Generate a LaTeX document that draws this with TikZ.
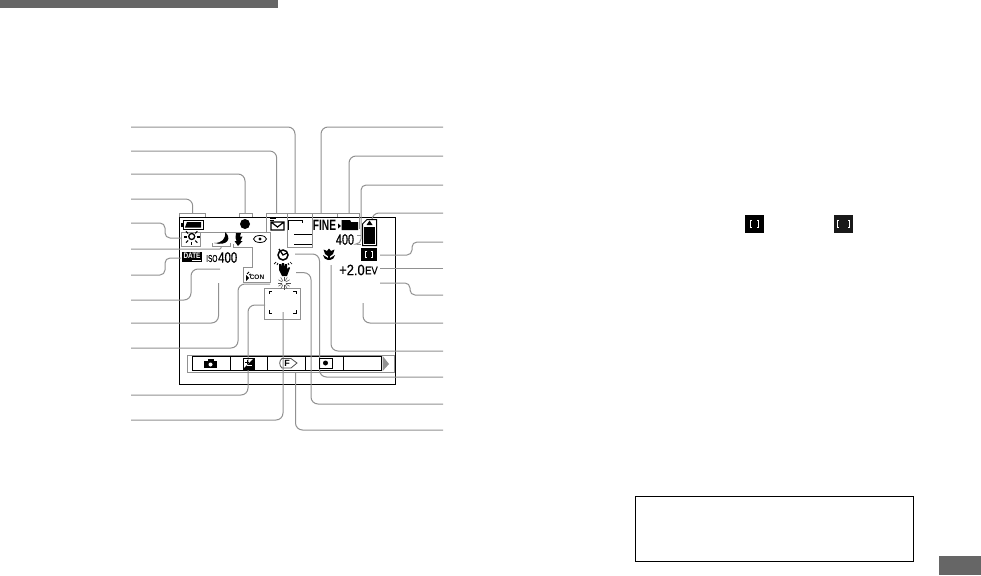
\documentclass[tikz,border=0pt]{standalone}
\usepackage{fontspec}
\setmainfont{Liberation Sans}
\newfontfamily\heavyfont[FakeBold=0.5]{Liberation Sans}
\usetikzlibrary{positioning,calc,shapes.geometric}
\definecolor{leadgray}{RGB}{145,145,145}
\definecolor{tabgray}{RGB}{102,102,102}
\newcommand{\narrow}[2]{\scalebox{#1}[1]{#2}}

\begin{document}
\begin{tikzpicture}[x=1pt,y=-1pt,
  leader/.style={draw=leadgray,line width=1pt,rounded corners=7pt},
  frame/.style={draw=black,line width=1pt},
  readout/.style={inner sep=0pt,text=black,font=\fontsize{15}{15}\heavyfont},
  smalltext/.style={inner sep=0pt,text=black,font=\fontsize{9}{9}\heavyfont},
  whitemark/.style={draw=white,line width=1pt},
  graymark/.style={draw=leadgray,line width=1pt}
]
\useasboundingbox (0,0) rectangle (981,575);
% page furniture
\node[fill=tabgray,inner sep=0pt,minimum width=278pt,minimum height=8pt] (headbar) at (139,4) {};
\node[fill=tabgray,inner sep=0pt,minimum width=42pt,minimum height=19pt] (pagetab) at (960,565.5) {};
\node[draw=black,line width=1pt,inner sep=0pt,minimum width=278pt,minimum height=65pt] (notebox) at (774,529) {};
\node[fill=black,inner sep=0pt,minimum width=19pt,minimum height=17.5pt] (spotnarrow) at (754.5,224) {};
\node[fill=black!90,inner sep=0pt,minimum width=19pt,minimum height=17.5pt] (spotwide) at (843.5,224) {};
\draw[whitemark] (752,220.5) -- (750.5,220.5) -- (750.5,227.5) -- (752,227.5) (757,220.5) -- (758.5,220.5) -- (758.5,227.5) -- (757,227.5);
\draw[whitemark] (839,220.5) -- (837.5,220.5) -- (837.5,227.5) -- (839,227.5) (848,220.5) -- (849.5,220.5) -- (849.5,227.5) -- (848,227.5);

% screen and menu
\node[frame,inner sep=0pt,minimum width=215.5pt,minimum height=166.5pt] (screen) at (287.25,300.75) {};
\draw[graymark] (187.7,355) rectangle (394,372);
\node[frame,inner sep=0pt,minimum width=189pt,minimum height=14pt] (menubar) at (287.2,363.7) {};
\foreach \x in {230.3,267,305.7,343} \draw[frame] (\x,356.7) -- (\x,370.7);
\fill[leadgray] (382.7,356) -- (389,364) -- (382.7,371) -- cycle;

% gray marks round the icons
\draw[graymark] (179.5,217) |- (205,213.5) -- (205,217);
\draw[graymark] (239,217) |- (252,213.5) -- (252,217);
\draw[graymark] (266,231.7) |- (359.3,213.3) -- (359.3,229);
\draw[graymark] (287,213.3) -- (287,247) -- (312,247) -- (312,213.3);
\draw[graymark] (337,213.3) -- (337,217);
\draw[graymark] (181,232) -- (181,246) -- (200,246) -- (200,232) (181,232) -- (270,232) -- (270,282) -- (243,282) -- (243,267) -- (252,267) -- (252,247) -- (233,247) -- (233,244);
\draw[graymark] (212,243) -- (212,246.5) -- (230,246.5) -- (230,243);
\draw[graymark] (357,235) -- (361,235) (357,244) -- (361,244);
\node[graymark,inner sep=0pt,minimum width=35.5pt,minimum height=31pt] (afbox) at (282.3,303.5) {};
\draw[frame] (269,294) |- (272,291) (269,310) |- (272,313) (293,291) -| (296,294) (293,313) -| (296,310);

% leader ends
\foreach \n/\y in {1/127,2/151,3/174,4/199,5/223,6/249,7/275,8/300,9/323,10/348,11/395,12/420}
  \coordinate (l\n) at (131,\y);
\foreach \n/\y in {1/127,2/156,3/185,4/213,5/242,6/268,7/295,8/323,9/351,10/377,11/404,12/430}
  \coordinate (r\n) at (443,\y);
\coordinate (tl1) at (295,213);
\coordinate (tl2) at (276.7,213);
\coordinate (tl3) at (245,213);
\coordinate (tl4) at (192.7,213);
\coordinate (tl5) at (181,238);
\coordinate (tl6) at (221,246.5);
\coordinate (tl7) at (181,258);
\coordinate (tl8) at (220,269);
\coordinate (tl9) at (218.5,283);
\coordinate (tl10) at (270,284);
\coordinate (tl11) at (265,305);
\coordinate (tl12) at (283,312);
\coordinate (tr1) at (321,213);
\coordinate (tr2) at (349,213);
\coordinate (tr3) at (357,244);
\coordinate (tr4) at (372,218);
\coordinate (tr5) at (380,255);
\coordinate (tr6) at (380,268);
\coordinate (tr7) at (380,283);
\coordinate (tr8) at (363,303);
\coordinate (tr9) at (331,265);
\coordinate (tr10) at (295,254);
\coordinate (tr11) at (296,272.7);
\coordinate (tr12) at (295.5,373);

% left leaders
\draw[leader] (l1) -| (tl1);
\draw[leader] (l2) -| (tl2);
\draw[leader] (l3) -| (tl3);
\draw[leader] (l4) -| (tl4);
\draw[leader,rounded corners=5pt] (l5) -| (165,238) -- (tl5);
\draw[leader,rounded corners=1pt] (l6) -| (tl6);
\draw[leader,rounded corners=5pt] (l7) -| (165,258) -- (tl7);
\draw[leader] (l8) -| (191,269) -- (tl8);
\draw[leader] (l9) -| (tl9);
\draw[leader] (l10) -| (238,284) -- (tl10);
\draw[leader] (l11) -| (248,305) -- (tl11);
\draw[leader] (l12) -| (tl12);
% right leaders
\draw[leader] (r1) -| (tr1);
\draw[leader] (r2) -| (tr2);
\draw[leader,rounded corners=5pt] (r3) -| (361,244) -- (tr3);
\draw[leader] (r4) -| (tr4);
\draw[leader,rounded corners=5pt] (r5) -| (412,255) -- (tr5);
\draw[leader] (r6) -- (tr6);
\draw[leader,rounded corners=5pt] (r7) -| (410,283) -- (tr7);
\draw[leader] (r8) -| (tr8);
\draw[leader] (r9) -| (tr9);
\draw[leader] (r10) -| (319.5,254) -- (tr10);
\draw[leader] (r11) -| (311,272.7) -- (tr11);
\draw[leader] (r12) -| (tr12);

% readouts
\node[readout,font=\fontsize{15}{15}\selectfont\bfseries] (fine) at (324.5,225.5) {\narrow{0.68}{FINE}};
\node[readout] (shots) at (345,239.5) {\narrow{0.72}{400}};
\node[readout,anchor=west] (isoval) at (218,257.5) {\narrow{0.76}{400}};
\node[smalltext,anchor=west,font=\fontsize{10}{10}\heavyfont] (isotag) at (206,258.5) {\narrow{0.65}{ISO}};
\node[readout,anchor=west] (evval) at (339,270) {\narrow{0.86}{+2.0}};
\node[smalltext,anchor=west,font=\fontsize{11}{11}\heavyfont] (evtag) at (365,270.5) {\narrow{0.85}{EV}};
\node[fill=black,inner sep=0pt,minimum width=20pt,minimum height=10pt] (datebox) at (192,257) {};
\node[inner sep=0pt,text=white,font=\fontsize{8}{8}\selectfont\bfseries] (datetag) at (192,255.7) {\narrow{0.8}{DATE}};
\fill[white] (192,259.8) rectangle (201,260.8);
\node[smalltext,font=\fontsize{6.5}{6.5}\selectfont\bfseries] (contag) at (257,277.5) {CON};

% battery, record dot, envelope, folder, card
\draw[frame] (183,220) -- (203,220) -- (203,229.5) -- (183,229.5) -- cycle;
\fill (181,223) rectangle (183,227);
\fill (187,222) -- (201,222) -- (201,227.5) -- (185,227.5) -- cycle;
\node[circle,fill=black,inner sep=0pt,minimum size=10pt] (recdot) at (245,224) {};
\draw[frame,line width=1.2pt] (271,222) rectangle (284,230) (271,222) -- (277.5,227) -- (284,222);
\draw[frame,line width=0.8pt] (270,218.5) -- (276,218.5) (270,220.5) -- (274,220.5);
\draw[frame] (288.5,230) -- (288.5,220) -- (302,220) -- (302,223);
\draw[frame] (294,234) -- (312,234) (294,244) -- (312,244);
\fill (338,223.5) -- (341,226) -- (338,228.5) -- cycle;
\fill (341.7,220) -- (350,220) -- (351,222) -- (358,222) -- (358,230) -- (341.7,230) -- cycle;
\draw[frame] (362.5,224) -- (367,219.5) -- (376.5,219.5) -- (376.5,245.5) -- (362.5,245.5) -- cycle;
\fill (364,227) rectangle (375,244);
\fill (369.5,220.5) -- (372.5,225) -- (366.5,225) -- cycle;
% spot box
\node[fill=black,inner sep=0pt,minimum width=16pt,minimum height=13pt] (spotbox) at (369,254.5) {};
\draw[whitemark] (367,251.5) -- (365.5,251.5) -- (365.5,257.5) -- (367,257.5) (371,251.5) -- (372.5,251.5) -- (372.5,257.5) -- (371,257.5);

% scene icons
\draw[frame,line width=1.3pt] (191.7,236.5) circle (3pt);
\foreach \a in {0,45,135,180,225,270,315}
  \draw[frame,line width=1.1pt] ($(191.7,237)+(\a:5pt)$) -- ($(191.7,237)+(\a:8pt)$);
\fill (225,232) .. controls (232,238) and (228,246.5) .. (214,243) .. controls (222,243) and (226,239) .. (225,232) -- cycle;
\fill (236,233) -- (241,233) -- (240,236.5) -- (242.5,236.5) -- (240.5,241) -- (242.5,241) -- (238,246) -- (234.5,241) -- (236.5,241) -- (235.5,238) -- cycle;
\draw[frame,line width=0.8pt] (260,239) ellipse (6.5pt and 3.5pt);
\fill (260,239) circle (1.6pt);
\fill (246,275) -- (249,278) -- (246,281) -- cycle;
\draw[frame,line width=0.8pt] (247,274) -- (249,272) (249,275) -- (251,274);
% timer, hand, flash warning, macro
\draw[frame,line width=1.5pt] (283,255) circle (5pt);
\draw[frame,line width=1.3pt] (279,249) -- (283,255) -- (287,253);
\fill (279,270) -- (279,264) -- (281,264) -- (281,268) -- (282,263) -- (284,263) -- (284,268) -- (285,264) -- (287,264) -- (287,269) -- (289,267) -- (290,268) -- (287,276) -- (282,276) -- cycle;
\draw[frame,line width=0.7pt] (274,264) -- (276,262) (277,265) -- (278,263) (292,264) -- (290,262) (289,265) -- (288,263);
\foreach \a in {0,30,...,330}
  \draw[draw=black!70,line width=0.5pt] ($(284,283)+(\a:2pt)$) -- ($(284,283)+(\a:6.5pt)$);
\fill (329,257) -- (325,254) -- (323.5,249.5) -- (327,251) -- (329,248.5) -- (331,251) -- (334.5,249.5) -- (333,254) -- cycle;
\fill (328.3,256) rectangle (329.7,259.5);
\fill (323,255) .. controls (323,258) and (326,260) .. (328,260) -- (328,258) -- cycle;
\fill (335,255) .. controls (335,258) and (332,260) .. (330,260) -- (330,258) -- cycle;

% menu icons
\fill (204,361) rectangle (217,368);
\fill (207.5,359) rectangle (213.5,361);
\node[circle,fill=white,inner sep=0pt,minimum size=4pt] (camlens) at (210.5,364.5) {};
\draw[frame,line width=0.8pt] (243,358) rectangle (254,369);
\fill (254,358) -- (254,369) -- (243,369) -- cycle;
\draw[draw=white,line width=1pt] (247,365.5) -- (252,365.5);
\draw[draw=black,line width=0.8pt] (245,362) -- (249,362) (247,360) -- (247,364);
\draw[draw=black!70,line width=0.8pt] (282,358.5) -- (291,358.5) -- (297,363) -- (291,368) -- (282,368) .. controls (279,366) and (279,360) .. (282,358.5) -- cycle;
\node[inner sep=0pt,font=\fontsize{9}{9}\selectfont\bfseries] (ftag) at (287,363) {F};
\draw[frame] (319,358) rectangle (332,368);
\node[circle,fill=black,inner sep=0pt,minimum size=5pt] (focusdot) at (325.5,363) {};
\end{tikzpicture}
\end{document}
